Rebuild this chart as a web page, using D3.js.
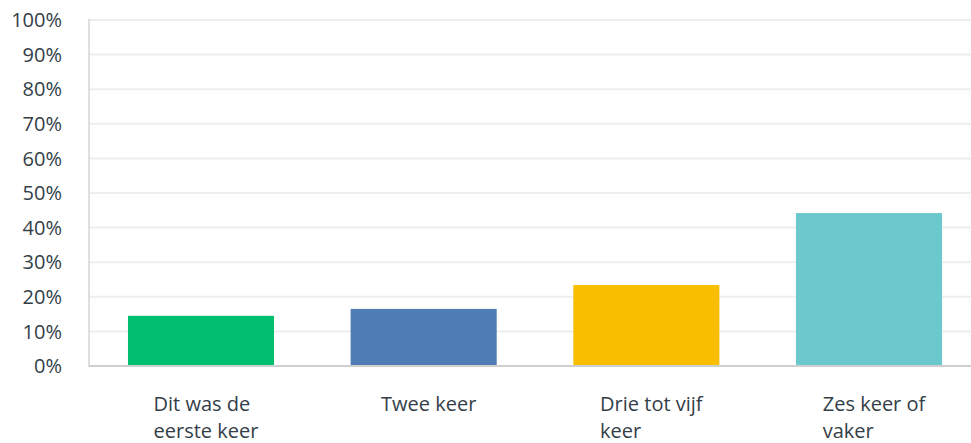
<!DOCTYPE html>
<html lang="nl">
  <head>
    <meta charset="UTF-8" />
    <title>Chart</title>
    <script src="https://d3js.org/d3.v7.min.js"></script>
    <style>
      body { margin: 0; background: #fff; }
      text { font-family: "Open Sans", sans-serif; fill: #333e48; }
    </style>
  </head>
  <body>
    <svg width="971" height="443"></svg>
    <script>
      var categories = ["Dit was de eerste keer", "Twee keer", "Drie tot vijf keer", "Zes keer of vaker"];
      var values = [14.5, 16.5, 23.4, 44.2];
      var colors = ["#00bf6f", "#507cb6", "#f9be00", "#6bc8cd"];
      var yTicks = [0, 10, 20, 30, 40, 50, 60, 70, 80, 90, 100];

      var svg = d3.select("svg");
      var plotLeft = 89, plotRight = 981, plotTop = 20, plotBottom = 366;

      var x = d3.scaleBand().domain(categories).range([plotLeft, plotRight])
        .paddingInner(0.344).paddingOuter(0.175);
      var y = d3.scaleLinear().domain([0, 100]).range([plotBottom, plotTop]);

      // gridlines
      svg.append("g").selectAll("line")
        .data(yTicks.slice(1))
        .enter().append("line")
        .attr("x1", plotLeft).attr("x2", 971)
        .attr("y1", function (d) { return y(d); })
        .attr("y2", function (d) { return y(d); })
        .attr("stroke", "#eeeeee")
        .attr("stroke-width", 2);

      // tick labels
      svg.append("g").selectAll("text")
        .data(yTicks)
        .enter().append("text")
        .attr("x", 62)
        .attr("y", function (d) { return y(d); })
        .attr("dy", "0.36em")
        .attr("text-anchor", "end")
        .attr("font-size", "20px")
        .text(function (d) { return d + "%"; });

      // bars
      svg.append("g").selectAll("rect")
        .data(values)
        .enter().append("rect")
        .attr("x", function (d, i) { return x(categories[i]); })
        .attr("y", function (d) { return y(d); })
        .attr("width", x.bandwidth())
        .attr("height", function (d) { return plotBottom - y(d); })
        .attr("fill", function (d, i) { return colors[i]; });

      // axis lines
      svg.append("line")
        .attr("x1", plotLeft).attr("x2", plotLeft)
        .attr("y1", plotTop - 1).attr("y2", plotBottom + 1)
        .attr("stroke", "#d4d4d4").attr("stroke-width", 1.5);
      svg.append("line")
        .attr("x1", plotLeft).attr("x2", 971)
        .attr("y1", plotBottom).attr("y2", plotBottom)
        .attr("stroke", "#cfcfcf").attr("stroke-width", 2);

      // category labels, wrapped and left aligned in a centred block
      var labels = svg.append("g").selectAll("text")
        .data(categories)
        .enter().append("text")
        .attr("font-size", "20px")
        .attr("y", 411);

      labels.each(function (d) {
        var t = d3.select(this);
        var words = d.split(" ");
        var lines = [], line = [];
        var probe = t.append("tspan");
        words.forEach(function (w) {
          var test = line.concat([w]).join(" ");
          probe.text(test);
          if (line.length && probe.node().getComputedTextLength() > 135) {
            lines.push(line.join(" "));
            line = [w];
          } else {
            line.push(w);
          }
        });
        lines.push(line.join(" "));
        probe.remove();

        var maxW = 0;
        var spans = lines.map(function (l, i) {
          var s = t.append("tspan").attr("dy", i === 0 ? 0 : 27).text(l);
          maxW = Math.max(maxW, s.node().getComputedTextLength());
          return s;
        });
        var cx = x(d) + x.bandwidth() / 2 + 5;
        spans.forEach(function (s) { s.attr("x", cx - maxW / 2); });
      });
    </script>
  </body>
</html>
